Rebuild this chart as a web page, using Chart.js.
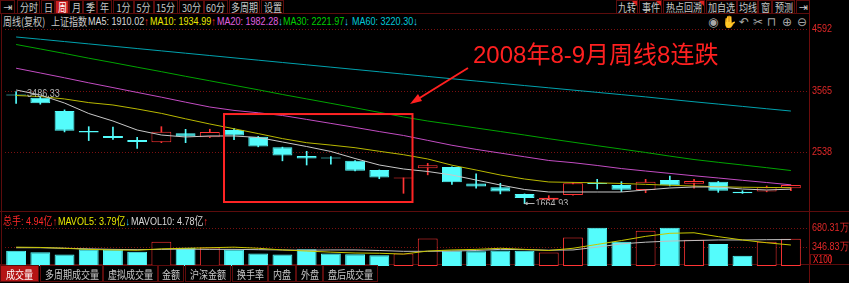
<!DOCTYPE html>
<html>
<head>
<meta charset="utf-8">
<script src="https://cdn.jsdelivr.net/npm/chart.js@4"></script>
<style>
*{box-sizing:border-box}
body{margin:0;background:#000}
#wrap{position:relative;width:849px;height:283px;overflow:hidden;background:#000;color:#c8c8c8;
  font:11px 'Liberation Sans','Noto Sans CJK SC',sans-serif}
.a{position:absolute;white-space:nowrap}
.s{display:inline-block;transform:scaleX(.82);transform-origin:0 50%;white-space:nowrap}
.t,.bt{position:absolute;display:flex;align-items:center;justify-content:center;border:1px solid #5c0c0c;
  color:#c8c8c8;font:11px 'Noto Sans CJK SC',sans-serif;white-space:nowrap}
.t{top:0;height:14px}
.bt{top:265px;height:17px}
.t span,.bt span{display:inline-block;transform:scaleX(.82);transform-origin:50% 50%}
.t.on{background:#c81e1e;color:#fff}
.bt.on{background:#b41414;color:#fff}
.t.n::after{content:'';position:absolute;right:0;top:0;border-top:5px solid #e02020;border-left:5px solid transparent}
.up{color:#ff2828}.dn{color:#28c8ff}
.ic{position:absolute;top:15px;font:12px 'DejaVu Sans',sans-serif;color:#a8a8a8}
.info{top:14px;line-height:14px}
canvas{position:absolute;left:0}
</style>
</head>
<body>
<div id="wrap">
  <!-- top toolbar -->
  <div class="t" style="left:0;width:15px;font-family:'DejaVu Sans'">⇥</div>
  <div class="t" style="left:17px;width:23px"><span>分时</span></div>
  <div class="t" style="left:41px;width:14px"><span>日</span></div>
  <div class="t on" style="left:55px;width:14px"><span>周</span></div>
  <div class="t" style="left:69px;width:14px"><span>月</span></div>
  <div class="t" style="left:83px;width:14px"><span>季</span></div>
  <div class="t" style="left:97px;width:15px"><span>年</span></div>
  <div class="t" style="left:113px;width:21px"><span>1分</span></div>
  <div class="t" style="left:134px;width:20px"><span>5分</span></div>
  <div class="t" style="left:154px;width:24px"><span>15分</span></div>
  <div class="t" style="left:179px;width:25px"><span>30分</span></div>
  <div class="t" style="left:204px;width:24px"><span>60分</span></div>
  <div class="t" style="left:229px;width:31px"><span>多周期</span></div>
  <div class="t" style="left:261px;width:23px"><span>设置</span></div>

  <div class="t n" style="left:616px;width:22px"><span>九转</span></div>
  <div class="t n" style="left:639px;width:23px"><span>事件</span></div>
  <div class="t n" style="left:663px;width:42px"><span>热点回溯</span></div>
  <div class="t" style="left:706px;width:31px"><span>加自选</span></div>
  <div class="t" style="left:737px;width:21px"><span>均线</span></div>
  <div class="t" style="left:758px;width:14px"><span>窗</span></div>
  <div class="t" style="left:772px;width:23px"><span>预测</span></div>
  <div class="t" style="left:796px;width:14px;font-family:'DejaVu Sans'">⇥</div>

  <!-- frame lines -->
  <div class="a" style="left:0;top:13px;width:810px;height:1px;background:#5c0c0c"></div>
  <div class="a" style="left:1px;top:14px;width:1px;height:251px;background:#5c0c0c"></div>
  <div class="a" style="left:809px;top:0;width:1px;height:283px;background:#6a0c0c"></div>
  <div class="a" style="left:0;top:211px;width:849px;height:1px;background:#5c0c0c"></div>
  <div class="a" style="left:0;top:264px;width:849px;height:1px;background:#5c0c0c"></div>

  <!-- info line -->
  <div class="a info" style="left:3px"><span class="s" style="font-family:'Noto Sans CJK SC'">周线(复权)</span></div>
  <div class="a info" style="left:51px"><span class="s" style="font-family:'Noto Sans CJK SC'">上证指数</span></div>
  <div class="a info" style="left:88px;color:#d8d8d8"><span class="s">MA5: 1910.02<span class="up">↑</span></span></div>
  <div class="a info" style="left:150px;color:#e8e800"><span class="s">MA10: 1934.99<span class="up">↑</span></span></div>
  <div class="a info" style="left:217px;color:#e060e0"><span class="s">MA20: 1982.28<span class="dn">↓</span></span></div>
  <div class="a info" style="left:283px;color:#00d000"><span class="s">MA30: 2221.97<span class="dn">↓</span></span></div>
  <div class="a info" style="left:352px;color:#00c8d8"><span class="s">MA60: 3220.30<span class="dn">↓</span></span></div>

  <span class="ic" style="left:708px">◉</span>
  <span class="ic" style="left:722px">✋</span>
  <span class="ic" style="left:739px">↶</span>
  <span class="ic" style="left:753px">✂</span>
  <span class="ic" style="left:767px">⊓</span>
  <span class="ic" style="left:782px">⊕</span>
  <span class="ic" style="left:797px">⊖</span>

  <canvas id="cp" width="849" height="185" style="top:20px"></canvas>
  <canvas id="cv" width="849" height="54" style="top:212px"></canvas>

  <!-- annotation -->
  <div class="a" style="left:473px;top:35px;font:24px 'Liberation Sans','Noto Sans CJK SC',sans-serif;color:#ff2020">2008年8-9月周线8连跌</div>
  <svg class="a" style="left:0;top:0" width="849" height="283">
    <line x1="468" y1="68" x2="418" y2="99" stroke="#ff2020" stroke-width="2"/>
    <polygon points="410,104 422,101 418,94" fill="#ff2020"/>
  </svg>

  <!-- volume header -->
  <div class="a info up" style="left:3px;top:214px"><span class="s">总手: 4.94亿↑</span></div>
  <div class="a info" style="left:58px;top:214px;color:#e8e800"><span class="s">MAVOL5: 3.79亿<span class="dn">↓</span></span></div>
  <div class="a info" style="left:131px;top:214px;color:#d8d8d8"><span class="s">MAVOL10: 4.78亿<span class="up">↑</span></span></div>
  <div class="a up" style="left:810px;top:254px;width:21px;height:11px;border:1px solid #6a0c0c;line-height:9px;font-size:10px;text-align:center"><span class="s" style="transform-origin:50% 50%">X100</span></div>

  <!-- bottom tabs -->
  <div class="bt on" style="left:0;width:39px"><span>成交量</span></div>
  <div class="bt" style="left:40px;width:63px"><span>多周期成交量</span></div>
  <div class="bt" style="left:103px;width:55px"><span>虚拟成交量</span></div>
  <div class="bt" style="left:158px;width:26px"><span>金额</span></div>
  <div class="bt" style="left:185px;width:46px"><span>沪深金额</span></div>
  <div class="bt" style="left:232px;width:36px"><span>换手率</span></div>
  <div class="bt" style="left:268px;width:28px"><span>内盘</span></div>
  <div class="bt" style="left:296px;width:27px"><span>外盘</span></div>
  <div class="bt" style="left:323px;width:55px"><span>盘后成交量</span></div>
</div>

<script>
// weekly candles, Shanghai Composite
const weeks  = Array.from({length: 33}, (_, i) => 'W' + (i + 1));
const opens  = [3488,3444,3221,2885,2800,2735,2696,2847,2780,2902,2790,2612,2466,2430,2387,2230,2090,2260,2282,2005,1940,1828,1730,1812,2000,1978,1895,2063,2000,2035,1867,1870,1925];
const closes = [3482,3352,2891,2860,2770,2700,2874,2795,2870,2810,2625,2475,2425,2425,2220,2105,2095,2312,2025,1955,1870,1760,1765,2010,1995,1898,2035,1975,2045,1885,1842,1940,1978];
const highs  = [3545,3450,3240,2958,2950,2780,2958,2914,2915,2931,2795,2615,2545,2455,2390,2232,2098,2342,2285,2165,2008,1830,1800,2020,2075,2035,2075,2130,2075,2040,1884,1962,1980];
const lows   = [3350,3335,2870,2725,2745,2595,2690,2690,2775,2740,2620,2385,2315,2330,2215,2085,1840,2150,1990,1925,1830,1664.93,1725,1810,1912,1868,1850,1962,1925,1857,1838,1865,1884];

const ma5  = [3574,3490,3355,3179,3053,2902,2818,2785,2802,2802,2777,2701,2625,2542,2424,2315,2248,2206,2147,2063,1979,1904,1862,1862,1862,1862,1896,1929,1946,1946,1912,1896,1910.02];
const ma10 = [3481,3464,3423,3362,3322,3255,3181,3090,3003,2923,2842,2758,2689,2649,2605,2545,2488,2416,2312,2231,2147,2080,2030,2023,2016,2005,1990,1975,1962,1950,1942,1938,1934.99];
const ma20 = [3939,3859,3778,3694,3614,3533,3453,3369,3288,3231,3191,3146,3080,3013,2946,2876,2810,2728,2646,2577,2515,2453,2391,2354,2307,2255,2214,2174,2134,2097,2058,2021,1982.28];
const ma30 = [4337,4262,4186,4107,4033,3956,3881,3803,3728,3652,3577,3498,3424,3350,3275,3198,3121,3053,2995,2936,2877,2818,2756,2698,2639,2582,2525,2464,2407,2360,2315,2270,2221.97];
const ma60 = [4463,4425,4386,4347,4308,4269,4230,4191,4152,4113,4074,4035,3996,3957,3918,3879,3840,3801,3762,3724,3686,3648,3610,3572,3534,3496,3458,3416,3376,3337,3298,3259,3220.30];

// volume, 万手 (axis shown x100)
const vols    = [274,250,208,304,304,256,437,328,335,299,226,208,304,226,214,196,226,498,281,268,281,274,245,516,690,437,636,690,473,395,183,437,494];
const mavol5  = [340,335,320,300,290,285,310,320,330,340,320,290,270,250,235,230,215,270,290,300,320,300,280,320,390,460,535,590,600,530,470,420,379];
const mavol10 = [330,330,320,310,300,295,300,305,300,300,295,290,285,290,290,280,265,265,270,280,300,295,285,290,340,400,430,450,460,470,470,475,478];

const priceTicks = [4592, 3565, 2538];
const volTicks   = [680.31, 346.83];
const hiLabel = '3486.33', loLabel = '1664.93';
const boxFrom = 9, boxTo = 16;   // the 8-week drop

const UP = '#ff3434', DOWN = '#54fcfc', GRID = '#7a1010', AXIS_TXT = '#e02828';
const isUp = opens.map((o, i) => closes[i] >= o);
const candleCol = isUp.map(u => u ? UP : DOWN);
const bodyFill  = isUp.map(u => u ? '#000' : DOWN);
const FONT = "11px 'Liberation Sans',sans-serif";

function hLines(ctx, scale, ticks) {
  ctx.save();
  ctx.strokeStyle = GRID; ctx.lineWidth = 1; ctx.setLineDash([1, 2]);
  ticks.forEach(v => {
    const py = Math.round(scale.getPixelForValue(v)) + 0.5;
    ctx.beginPath(); ctx.moveTo(5, py); ctx.lineTo(808, py); ctx.stroke();
  });
  ctx.restore();
}
// narrow text: the original uses a condensed bitmap face
function narrowText(ctx, txt, x, y) {
  ctx.save(); ctx.translate(x, y); ctx.scale(0.82, 1); ctx.fillText(txt, 0, 0); ctx.restore();
}
function axisText(ctx, scale, ticks, fmt) {
  ctx.save();
  ctx.fillStyle = AXIS_TXT; ctx.font = FONT; ctx.textBaseline = 'middle';
  ticks.forEach(v => narrowText(ctx, fmt(v), 812, scale.getPixelForValue(v)));
  ctx.restore();
}

const priceFrame = {
  id: 'priceFrame',
  beforeDatasetsDraw(chart) { hLines(chart.ctx, chart.scales.y, priceTicks); },
  afterDatasetsDraw(chart) {
    const {ctx, scales: {x, y}} = chart;
    axisText(ctx, y, priceTicks, v => String(v));
    ctx.save();
    // box round the 8 falling weeks
    ctx.strokeStyle = '#ff2424'; ctx.lineWidth = 2;
    const bx0 = x.getPixelForValue(boxFrom) - 10, bx1 = x.getPixelForValue(boxTo) + 9;
    const by0 = y.getPixelForValue(3170), by1 = y.getPixelForValue(1694);
    ctx.strokeRect(bx0, by0, bx1 - bx0, by1 - by0);
    // high / low marks
    ctx.font = FONT; ctx.textBaseline = 'middle';
    ctx.fillStyle = '#b4b4b4'; ctx.strokeStyle = '#b4b4b4'; ctx.lineWidth = 1;
    const hi = highs.indexOf(Math.max(...highs));
    narrowText(ctx, hiLabel, x.getPixelForValue(hi) + 11, y.getPixelForValue(highs[hi]) + 2);
    const lo = lows.indexOf(Math.min(...lows));
    const lx = x.getPixelForValue(lo), ly = Math.round(y.getPixelForValue(lows[lo])) - 0.5;
    ctx.beginPath(); ctx.moveTo(lx, ly); ctx.lineTo(lx + 10, ly); ctx.stroke();
    ctx.beginPath(); ctx.moveTo(lx, ly); ctx.lineTo(lx + 3, ly - 2); ctx.lineTo(lx + 3, ly + 2); ctx.fill();
    narrowText(ctx, loLabel, lx + 11, ly);
    ctx.restore();
  }
};

const volFrame = {
  id: 'volFrame',
  beforeDatasetsDraw(chart) { hLines(chart.ctx, chart.scales.y, volTicks); },
  afterDatasetsDraw(chart) { axisText(chart.ctx, chart.scales.y, volTicks, v => v.toFixed(2) + '万'); }
};

const line = (data, color, w) => ({type: 'line', data, borderColor: color, borderWidth: w || 1,
  pointRadius: 0, tension: 0, order: 0});

const common = {
  responsive: false, animation: false, devicePixelRatio: 1, events: [],
  layout: {padding: {left: 4, right: 46, top: 0, bottom: 0}},
  plugins: {legend: {display: false}, tooltip: {enabled: false}}
};

new Chart(document.getElementById('cp'), {
  type: 'bar',
  data: {
    labels: weeks,
    datasets: [
      line(ma5, '#c8c8c8'), line(ma10, '#b8b800'), line(ma20, '#c24cc2'),
      line(ma30, '#00a400'), line(ma60, '#00a2ae'),
      {type: 'bar', data: opens.map((o, i) => [o, closes[i]]), backgroundColor: bodyFill,
       borderColor: candleCol, borderWidth: 1, borderSkipped: false, grouped: false,
       barPercentage: 0.82, categoryPercentage: 1, minBarLength: 1, order: 1},
      {type: 'bar', data: lows.map((l, i) => [l, highs[i]]), backgroundColor: candleCol,
       barThickness: 1, grouped: false, order: 2}
    ]
  },
  options: Object.assign({}, common, {
    scales: {x: {display: false}, y: {display: false, min: 1643.8, max: 4748}}
  }),
  plugins: [priceFrame]
});

new Chart(document.getElementById('cv'), {
  type: 'bar',
  data: {
    labels: weeks,
    datasets: [
      line(mavol5, '#c8c800'), line(mavol10, '#c0c0c0'),
      {type: 'bar', data: vols, backgroundColor: bodyFill, borderColor: candleCol, borderWidth: 1,
       borderSkipped: false, grouped: false, barPercentage: 0.82, categoryPercentage: 1, order: 1}
    ]
  },
  options: Object.assign({}, common, {
    scales: {x: {display: false}, y: {display: false, min: 0, max: 975}}
  }),
  plugins: [volFrame]
});
</script>
</body>
</html>
